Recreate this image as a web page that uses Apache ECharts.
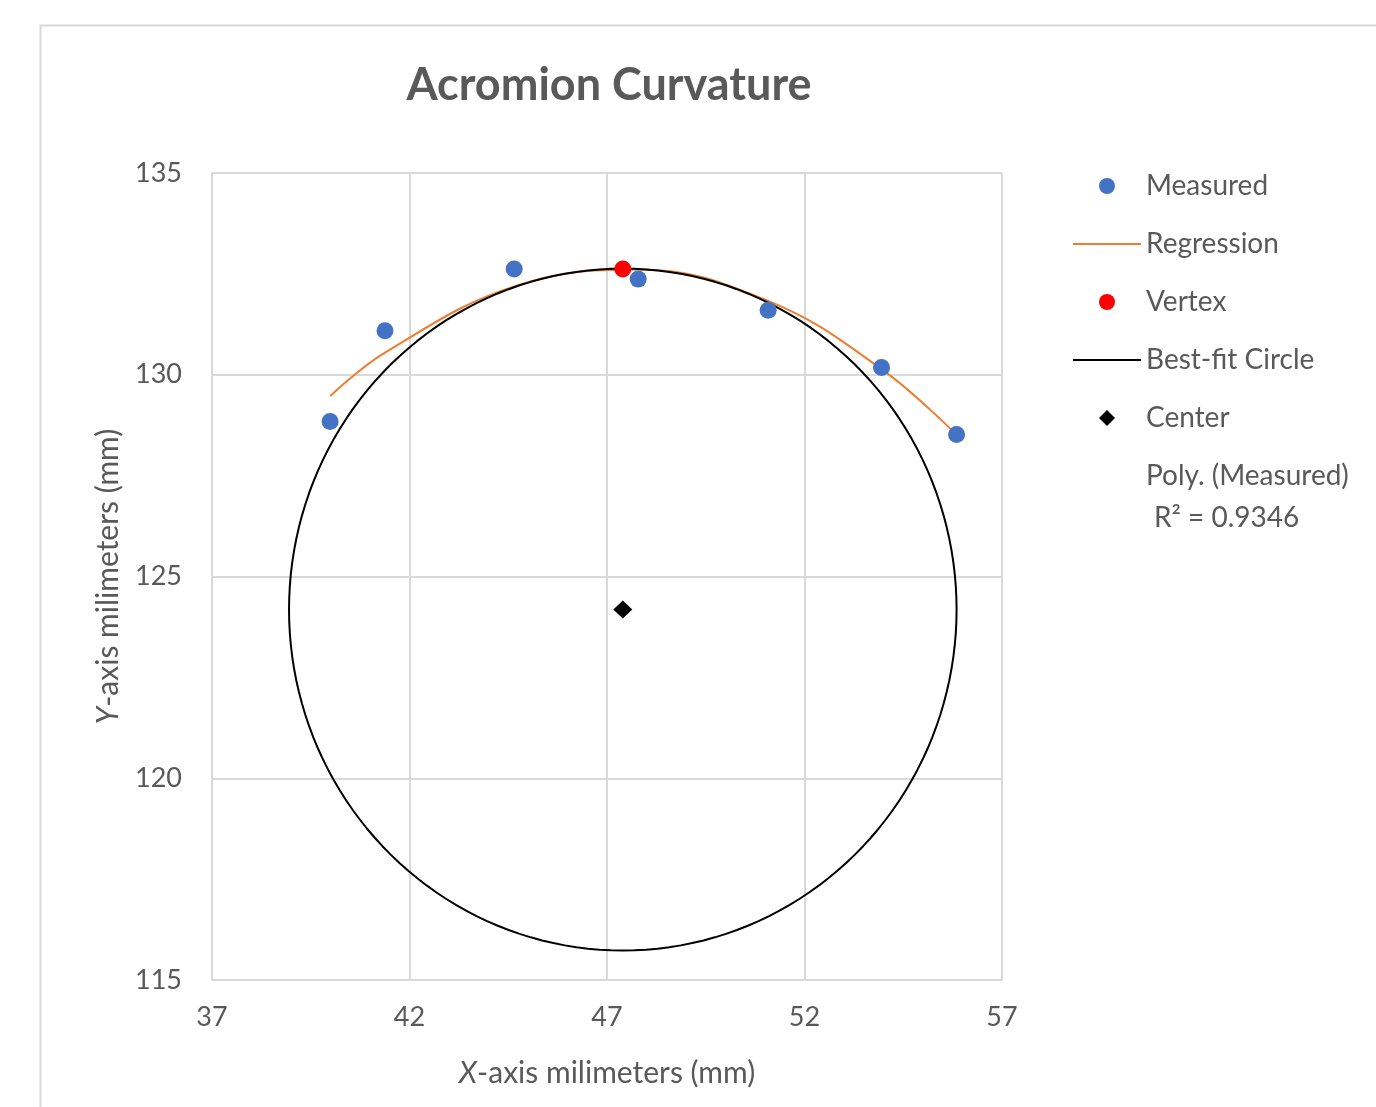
<!DOCTYPE html>
<html>
<head>
<meta charset="utf-8">
<script src="https://cdn.jsdelivr.net/npm/echarts@6/dist/echarts.min.js"></script>
<style>
html,body{margin:0;padding:0;background:#fff;}
#chart{width:1376px;height:1107px;}
</style>
</head>
<body>
<div id="chart"></div>
<script>
// ---- data ----
const measuredX = [39.99, 41.38, 44.65, 47.79, 51.08, 53.95, 55.85];
const measuredY = [128.84, 131.09, 132.62, 132.37, 131.60, 130.18, 128.52];
const regressionX = [39.99, 41.38, 44.65, 47.79, 51.08, 53.95, 55.85];
const regressionY = [129.47, 130.55, 132.19, 132.61, 131.83, 130.14, 128.51];
const vertexPoint = [47.40, 132.62];
const centerPoint = [47.40, 124.18];
const circleRadius = [8.45];
const xTicks = [37, 42, 47, 52, 57];
const yTicks = [115, 120, 125, 130, 135];
const rSquared = '0.9346';

const FONT = 'Lato';
const TXT = '#595959';

const measuredData = measuredX.map((x, i) => [x, measuredY[i]]);
const regressionData = regressionX.map((x, i) => [x, regressionY[i]]);
const circleData = [];
for (let k = 0; k <= 180; k++) {
  const t = Math.PI / 2 - (k / 180) * 2 * Math.PI;
  circleData.push([centerPoint[0] + circleRadius[0] * Math.cos(t), centerPoint[1] + circleRadius[0] * Math.sin(t)]);
}

const nameStyle = {
  fontFamily: FONT, fontSize: 30, color: TXT,
  rich: {
    i: {fontFamily: FONT, fontSize: 30, color: TXT, fontStyle: 'italic'},
    n: {fontFamily: FONT, fontSize: 30, color: TXT}
  }
};

// legend diamond icon padded to the legend item box so it is not stretched
const diamondIcon = 'path://M0,8L0.01,8Z M68,8L67.99,8Z M26,8L34,0L42,8L34,16Z';

const chart = echarts.init(document.getElementById('chart'), null, {renderer: 'canvas'});
const option = {
  backgroundColor: '#fff',
  animation: false,
  title: {
    text: 'Acromion Curvature',
    left: 604, top: 80, textAlign: 'center', textVerticalAlign: 'middle',
    textStyle: {fontFamily: FONT, fontSize: 45, fontWeight: 'bold', color: TXT}
  },
  graphic: [
    {type: 'rect', left: 38, top: 23, shape: {width: 1400, height: 1200}, style: {fill: 'none', stroke: '#d9d9d9', lineWidth: 2}, silent: true},
    {type: 'text', left: 1154, top: 504, style: {text: 'R² = ' + rSquared, fontFamily: FONT, fontSize: 28, fill: TXT}}
  ],
  legend: {
    orient: 'vertical', left: 1067, top: 166,
    itemWidth: 68, itemHeight: 16, itemGap: 28,
    textStyle: {fontFamily: FONT, fontSize: 28, color: TXT, lineHeight: 30},
    data: [
      {name: 'Measured', icon: 'circle'},
      {name: 'Regression', itemStyle: {opacity: 0}},
      {name: 'Vertex', icon: 'circle'},
      {name: 'Best-fit Circle', itemStyle: {opacity: 0}},
      {name: 'Center', icon: diamondIcon},
      {name: 'Poly. (Measured)', icon: 'none'}
    ]
  },
  grid: {left: 212, right: 374, top: 173, bottom: 127, containLabel: false},
  xAxis: {
    type: 'value', min: xTicks[0], max: xTicks[xTicks.length - 1], interval: xTicks[1] - xTicks[0],
    name: '{i|X}{n|-axis milimeters (mm)}', nameLocation: 'middle', nameGap: 78,
    nameTextStyle: nameStyle,
    axisLine: {show: true, onZero: false, lineStyle: {color: '#d9d9d9', width: 2}},
    axisTick: {show: false},
    splitLine: {show: true, lineStyle: {color: '#d9d9d9', width: 2}},
    axisLabel: {fontFamily: FONT, fontSize: 27, color: TXT, margin: 24}
  },
  yAxis: {
    type: 'value', min: yTicks[0], max: yTicks[yTicks.length - 1], interval: yTicks[1] - yTicks[0],
    name: '{i|Y}{n|-axis milimeters (mm)}', nameLocation: 'middle', nameGap: 89, nameRotate: 90,
    nameTextStyle: nameStyle,
    axisLine: {show: true, onZero: false, lineStyle: {color: '#d9d9d9', width: 2}},
    axisTick: {show: false},
    splitLine: {show: true, lineStyle: {color: '#d9d9d9', width: 2}},
    axisLabel: {fontFamily: FONT, fontSize: 27, color: TXT, margin: 30}
  },
  series: [
    {name: 'Measured', type: 'scatter', data: measuredData, symbol: 'circle', symbolSize: 17, itemStyle: {color: '#4472C4', opacity: 1}, z: 5},
    {name: 'Regression', type: 'line', data: regressionData, symbol: 'none', smooth: 0.4, lineStyle: {color: '#ED7D31', width: 2}, itemStyle: {color: '#ED7D31'}, z: 3},
    {name: 'Vertex', type: 'scatter', data: [vertexPoint], symbol: 'circle', symbolSize: 17, itemStyle: {color: '#FF0000', opacity: 1}, z: 6},
    {name: 'Best-fit Circle', type: 'line', data: circleData, symbol: 'none', lineStyle: {color: '#000', width: 2}, itemStyle: {color: '#000'}, z: 4},
    {name: 'Center', type: 'scatter', data: [centerPoint], symbol: 'diamond', symbolSize: [19, 18], itemStyle: {color: '#000', opacity: 1}, z: 6},
    {name: 'Poly. (Measured)', type: 'line', data: [], symbol: 'none', lineStyle: {opacity: 0}, itemStyle: {color: 'rgba(0,0,0,0)'}}
  ]
};
chart.setOption(option);
</script>
</body>
</html>
